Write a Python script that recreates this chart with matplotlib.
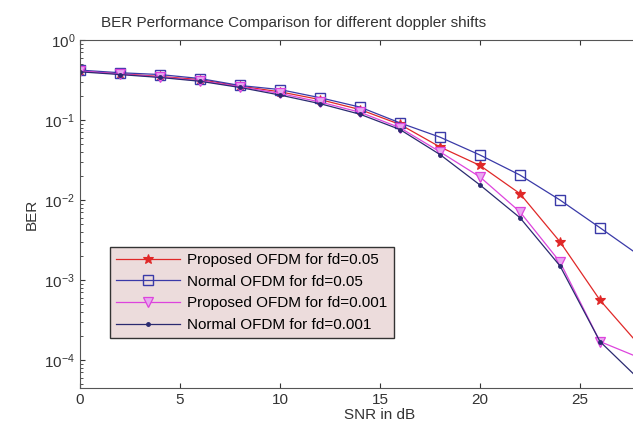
import numpy as np
import matplotlib
matplotlib.use("Agg")
import matplotlib.pyplot as plt

plt.rcParams['font.family'] = ['Liberation Sans', 'DejaVu Sans']

# SNR points
snr = [0, 2, 4, 6, 8, 10, 12, 14, 16, 18, 20, 22, 24, 26, 28]

# BER curves
prop_005 = [0.41, 0.38, 0.35, 0.32, 0.265, 0.225, 0.18, 0.135, 0.088, 0.046, 0.027, 0.012, 0.003, 0.00056, 0.00015]
norm_005 = [0.42, 0.39, 0.37, 0.33, 0.27, 0.24, 0.19, 0.145, 0.092, 0.061, 0.0365, 0.0205, 0.010, 0.0045, 0.002]
prop_0001 = [0.41, 0.375, 0.345, 0.31, 0.26, 0.215, 0.168, 0.125, 0.08, 0.04, 0.0194, 0.0071, 0.00168, 0.00017, 0.000106]
norm_0001 = [0.40, 0.37, 0.34, 0.305, 0.255, 0.205, 0.16, 0.118, 0.076, 0.037, 0.0154, 0.006, 0.0015, 0.00017, 0.000056]

labels = ['Proposed OFDM for fd=0.05', 'Normal OFDM for fd=0.05',
          'Proposed OFDM for fd=0.001', 'Normal OFDM for fd=0.001']

fig = plt.figure(figsize=(6.33, 4.34), dpi=100)
# axes runs past the right edge like the cropped original
ax = fig.add_axes([80/633, 46/434, 600/633, 348/434])

ax.semilogy(snr, prop_005, color='#e02828', marker='*', ms=7, mew=0.8, lw=0.9, label=labels[0])
ax.semilogy(snr, norm_005, color='#3a3aa8', marker='s', mfc='none', ms=7, mew=1.0, lw=0.9, label=labels[1])
ax.semilogy(snr, prop_0001, color='#dd44dd', marker='v', mfc='#e8a8f0', ms=7, mew=0.9, lw=0.9, label=labels[2])
ax.semilogy(snr, norm_0001, color='#2a2a70', marker='.', ms=5, lw=0.9, label=labels[3])

ax.set_xlim(0, 30)
ax.set_ylim(10**-4.35, 1)
ax.set_xticks([0, 5, 10, 15, 20, 25])
for s in ax.spines.values():
    s.set_color('#555555')
ax.tick_params(which='both', direction='in', top=True, right=True, labelsize=11, colors='#333333')
ax.set_xlabel('SNR in dB', fontsize=11, color='#333333', labelpad=1)
ax.set_ylabel('BER', fontsize=11, color='#333333')
ax.set_title('BER Performance Comparison for different doppler shifts', fontsize=11,
             color='#333333', x=0.356, pad=9)

leg = ax.legend(loc='upper left', bbox_to_anchor=(0.05, 0.405), fontsize=11, frameon=True,
                fancybox=False, handlelength=4.2, borderpad=0.4, labelspacing=0.5,
                borderaxespad=0, handletextpad=0.45)
leg.get_frame().set_facecolor('#ecdcdc')
leg.get_frame().set_edgecolor('#333333')
leg.get_frame().set_alpha(1)

fig.savefig('out.png', dpi=100)
